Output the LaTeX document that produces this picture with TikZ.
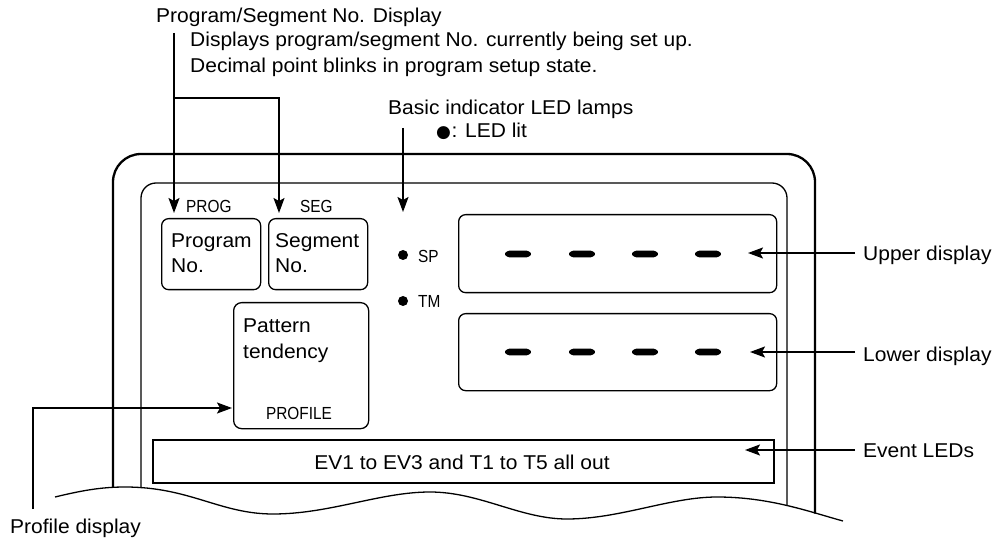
\documentclass[tikz,border=0pt]{standalone}
\usepackage{fontspec}
\setmainfont[FakeStretch=1.05]{Liberation Sans}
\newfontfamily\narrowfont[FakeStretch=0.88]{Liberation Sans}
\newfontfamily\symbolfont{DejaVu Sans}
\usetikzlibrary{arrows.meta}
\begin{document}
\begin{tikzpicture}[x=1pt,y=-1pt,
  txt/.style={inner sep=0pt, anchor=base west, font=\fontsize{20}{24}\selectfont},
  lbl/.style={inner sep=0pt, anchor=base west, font=\narrowfont\fontsize{17.5}{20}\selectfont},
  arr/.style={line width=1.7pt, -{Stealth[length=15pt,width=11pt,inset=3pt]}},
  box/.style={draw, line width=1.3pt, rounded corners=7pt, anchor=north west, inner sep=0pt},
  seg7/.style={fill=black, rounded corners=1.5pt},
  led/.style={fill=black},
  frameout/.style={line width=2.3pt, rounded corners=28pt},
  framein/.style={line width=1.3pt, rounded corners=15pt},
]
\useasboundingbox (0,0) rectangle (1005,540);

% top texts
\node[txt] (psd) at (156,23) {Program/Segment No. Display};
\node[txt] (psd2) at (190,47) {Displays program/segment No. currently being set up.};
\node[txt] (psd3) at (190,73) {Decimal point blinks in program setup state.};
\node[txt] (basic) at (388,115) {Basic indicator LED lamps};
\node[txt] (ledlit) at (436,138) {{\symbolfont\fontsize{17}{18}\selectfont ●}\kern0.5pt: LED lit};

% frames
\draw[frameout] (113,487.5) -- (113,154) -- (815,154) -- (815,513.5);
\draw[framein] (141,488) -- (141,183) -- (787,183) -- (787,505);
\draw[line width=1.3pt] (55,497) .. controls (80,491) and (100,487) .. (125,487)
  .. controls (190,487) and (220,514) .. (273,514)
  .. controls (330,514) and (380,492) .. (430,492)
  .. controls (480,492) and (520,519) .. (567,519)
  .. controls (620,519) and (670,497) .. (717,497)
  .. controls (770,497) and (810,512) .. (843,521);

% program / segment boxes
\node[lbl] (progl) at (186,213) {PROG};
\node[lbl] (segl) at (300,213) {SEG};
\node[box, minimum width=99pt, minimum height=71pt] (prog) at (161,218) {};
\node[box, minimum width=99pt, minimum height=71pt] (seg) at (268,218) {};
\node[txt] (progt1) at (171,248) {Program};
\node[txt] (progt2) at (171,273) {No.};
\node[txt] (segt1) at (275,248) {Segment};
\node[txt] (segt2) at (275,273) {No.};

% pattern box
\node[box, minimum width=135pt, minimum height=126pt, rounded corners=8pt] (pat) at (233,302) {};
\node[txt] (patt1) at (243,333) {Pattern};
\node[txt] (patt2) at (243,359) {tendency};
\node[lbl, anchor=base] (profl) at (299,419) {PROFILE};

% LEDs
\fill[led] (403,255) circle (5pt);
\fill[led] (403,301) circle (5pt);
\node[lbl] (spl) at (418,263) {SP};
\node[lbl] (tml) at (418,308) {TM};

% displays
\node[box, minimum width=318pt, minimum height=78pt] (upper) at (458,214) {};
\node[box, minimum width=318pt, minimum height=77pt] (lower) at (458,313) {};
\foreach \yy in {254,352}{
  \foreach \xx in {518,582,645,708}{
    \fill[seg7] (\xx-14,\yy) -- (\xx-10,\yy-3.4) -- (\xx+10,\yy-3.4) -- (\xx+14,\yy)
      -- (\xx+10,\yy+3.4) -- (\xx-10,\yy+3.4) -- cycle;
  }
}

% event box
\node[draw, line width=1.6pt, minimum width=621pt, minimum height=43pt, anchor=north west, inner sep=0pt] (ev) at (152,439) {};
\node[txt, anchor=base] (evt) at (462,469) {EV1 to EV3 and T1 to T5 all out};

% right labels
\node[txt] (upl) at (863,261) {Upper display};
\node[txt] (lol) at (863,361) {Lower display};
\node[txt] (evl) at (863,457) {Event LEDs};
\node[txt] (pdl) at (10,533) {Profile display};

% connectors
\coordinate (a1s) at (174,33);
\coordinate (a1e) at (174,213);
\coordinate (a2b) at (174,98);
\coordinate (a2e) at (279,213);
\coordinate (a3s) at (403,128);
\coordinate (a3e) at (403,212);
\coordinate (a4s) at (33,509);
\coordinate (a4e) at (232,408);
\coordinate (u1) at (855,253);
\coordinate (u2) at (748,253);
\coordinate (l1) at (855,352);
\coordinate (l2) at (750,352);
\coordinate (e1) at (855,450);
\coordinate (e2) at (745,450);
\draw[arr] (a1s) -- (a1e);
\draw[arr] (a2b) -| (a2e);
\draw[arr] (a3s) -- (a3e);
\draw[arr] (a4s) |- (a4e);
\draw[arr] (u1) -- (u2);
\draw[arr] (l1) -- (l2);
\draw[arr] (e1) -- (e2);
\end{tikzpicture}
\end{document}
